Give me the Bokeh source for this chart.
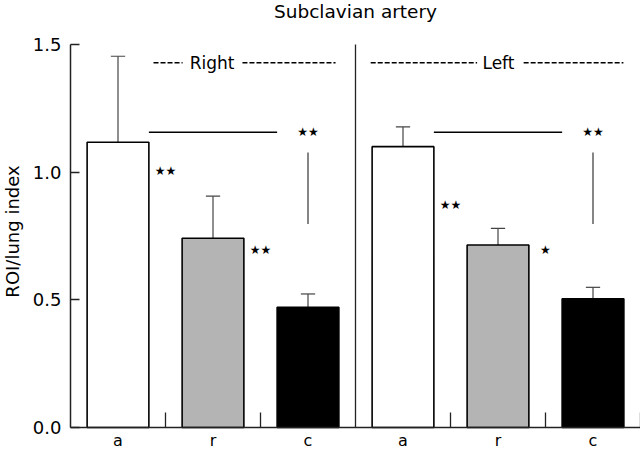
import math
from bokeh.plotting import figure
from bokeh.models import FixedTicker, Range1d, ColumnDataSource, PrintfTickFormatter
from bokeh.core.properties import value
from bokeh.embed import file_html
from bokeh.resources import INLINE

# ---- data ----
title = "Subclavian artery"
y_label = "ROI/lung index"
groups = ["Right", "Left"]
categories = ["a", "r", "c"]
right_means = [1.117, 0.741, 0.471]
right_err = [0.337, 0.165, 0.052]
left_means = [1.100, 0.715, 0.504]
left_err = [0.077, 0.065, 0.045]
bar_colors = ["white", "#b4b4b4", "black"]
y_ticks = [0.0, 0.5, 1.0, 1.5]

# significance stars beside bars a and r (per group)
right_bar_stars = ["★★", "★★"]
right_bar_star_y = [1.006, 0.697]
left_bar_stars = ["★★", "★"]
left_bar_star_y = [0.873, 0.697]
# bracket a–c: horizontal line level, vertical line from/to, stars
bracket_y = [1.156, 1.156]
bracket_v_low = [0.797, 0.797]
bracket_v_high = [1.077, 1.077]
bracket_stars = ["★★", "★★"]
# group header (dashed rule with label)
group_label_y = 1.429
group_label_x = [1.49, 4.505]
dash_left = [(0.874, 1.18), (3.16, 4.28)]
dash_right = [(1.81, 2.79), (4.77, 5.82)]

# ---- layout (pixels) ----
W, H = 640, 449
PLOT_L, PLOT_T, PLOT_B = 70, 44, 427      # plot area edges on the canvas
FONT = "DejaVu Sans"
n = len(categories)
X_MAX = 2 * n
Y_MAX = y_ticks[-1]
kx = (W - PLOT_L) / X_MAX                 # px per x unit
ky = (PLOT_B - PLOT_T) / Y_MAX            # px per y unit


def ux(px):  # canvas x pixel -> data x
    return (px - PLOT_L) / kx


def uy(py):  # canvas y pixel -> data y
    return (PLOT_B - py) / ky


p = figure(width=W, height=H, output_backend="svg", toolbar_location=None,
           x_range=Range1d(ux(0), ux(W)), y_range=Range1d(uy(H), uy(0)),
           min_border_left=0, min_border_right=0, min_border_top=0, min_border_bottom=0)
p.title.visible = False
p.outline_line_color = None
p.xgrid.visible = False
p.ygrid.visible = False
p.background_fill_color = "white"
p.border_fill_color = "white"

# bars
xs, tops, errs, cols, labs = [], [], [], [], []
for g, (means, err) in enumerate([(right_means, right_err), (left_means, left_err)]):
    for i in range(n):
        xs.append(g * n + i + 0.5)
        tops.append(means[i])
        errs.append(err[i])
        cols.append(bar_colors[i])
        labs.append(categories[i])
src = ColumnDataSource(dict(x=xs, top=tops, up=[t + e for t, e in zip(tops, errs)], col=cols,
                            cl=[x - 0.075 for x in xs], cr=[x + 0.075 for x in xs]))
p.segment(x0="x", y0="top", x1="x", y1="up", source=src, line_color="#444444", line_width=1.2)
p.segment(x0="cl", y0="up", x1="cr", y1="up", source=src, line_color="#444444", line_width=1.2)
p.vbar(x="x", top="top", bottom=0, width=0.65, source=src, fill_color="col",
       line_color="black", line_width=1.6)

# separator between the two groups
p.segment(x0=[n], y0=[0], x1=[n], y1=[Y_MAX], line_color="#222222", line_width=1.3)

# title and y-axis title
p.text(x=[X_MAX / 2], y=[uy(11)], text=[title], text_font=value(FONT), text_font_size="18.5px",
       text_align="center", text_baseline="middle", text_color="black")
p.text(x=[ux(12)], y=[uy(231)], text=[y_label], angle=math.pi / 2, text_font=value(FONT),
       text_font_size="18px", text_align="center", text_baseline="alphabetic", text_color="black")

# stars beside bars
sx, sy, st = [], [], []
for g, (stars, ys) in enumerate([(right_bar_stars, right_bar_star_y), (left_bar_stars, left_bar_star_y)]):
    for i, (s, y) in enumerate(zip(stars, ys)):
        sx.append(g * n + i + 1.0)
        sy.append(y)
        st.append(s)
# bracket stars above the c bars
for g in range(2):
    sx.append(g * n + 2.5)
    sy.append(bracket_y[g])
    st.append(bracket_stars[g])
p.text(x=sx, y=sy, text=st, text_font=value(FONT), text_font_size="12px",
       text_align="center", text_baseline="middle", text_color="black")

# bracket lines
for g in range(2):
    x_left = g * n + 0.5 + 0.325
    x_right = g * n + 2.5 - 0.325
    p.segment(x0=[x_left], y0=[bracket_y[g]], x1=[x_right], y1=[bracket_y[g]],
              line_color="black", line_width=1.5)
    p.segment(x0=[g * n + 2.5], y0=[bracket_v_low[g]], x1=[g * n + 2.5], y1=[bracket_v_high[g]],
              line_color="#444444", line_width=1.3)

# group headers
p.text(x=group_label_x, y=[group_label_y] * 2, text=groups, text_font=value(FONT),
       text_font_size="17px", text_align="center", text_baseline="middle", text_color="black")
p.segment(x0=[a for a, b in dash_left + dash_right], x1=[b for a, b in dash_left + dash_right],
          y0=[group_label_y] * 4, y1=[group_label_y] * 4, line_color="black",
          line_width=1.5, line_dash="5 2")

# axes, pinned at x=0 and y=0
xa = p.xaxis[0]
xa.fixed_location = 0
xa.bounds = (0, X_MAX)
xa.ticker = FixedTicker(ticks=xs, minor_ticks=[g * n + i + 1 for g in range(2) for i in range(n)
                                              if not (g == 0 and i == n - 1)])
xa.major_label_overrides = {x: lab for x, lab in zip(xs, labs)}
xa.major_tick_in = 0
xa.major_tick_out = 0
xa.minor_tick_in = 15
xa.minor_tick_out = 0
xa.minor_tick_line_color = "#222222"
xa.minor_tick_line_width = 1.3
xa.axis_line_color = "#222222"
xa.axis_line_width = 1.5
xa.major_label_text_font = FONT
xa.major_label_text_font_size = "16px"
xa.major_label_text_color = "black"
xa.major_label_standoff = 3

ya = p.yaxis[0]
ya.fixed_location = 0
ya.bounds = (0, Y_MAX)
ya.ticker = FixedTicker(ticks=y_ticks, minor_ticks=[])
ya.formatter = PrintfTickFormatter(format="%.1f")
ya.major_tick_in = 9
ya.major_tick_out = 0
ya.major_tick_line_color = "#222222"
ya.major_tick_line_width = 1.3
ya.axis_line_color = "#222222"
ya.axis_line_width = 1.5
ya.major_label_text_font = FONT
ya.major_label_text_font_size = "18px"
ya.major_label_text_color = "black"
ya.major_label_standoff = 9

open("out.html", "w").write(file_html(p, INLINE))
